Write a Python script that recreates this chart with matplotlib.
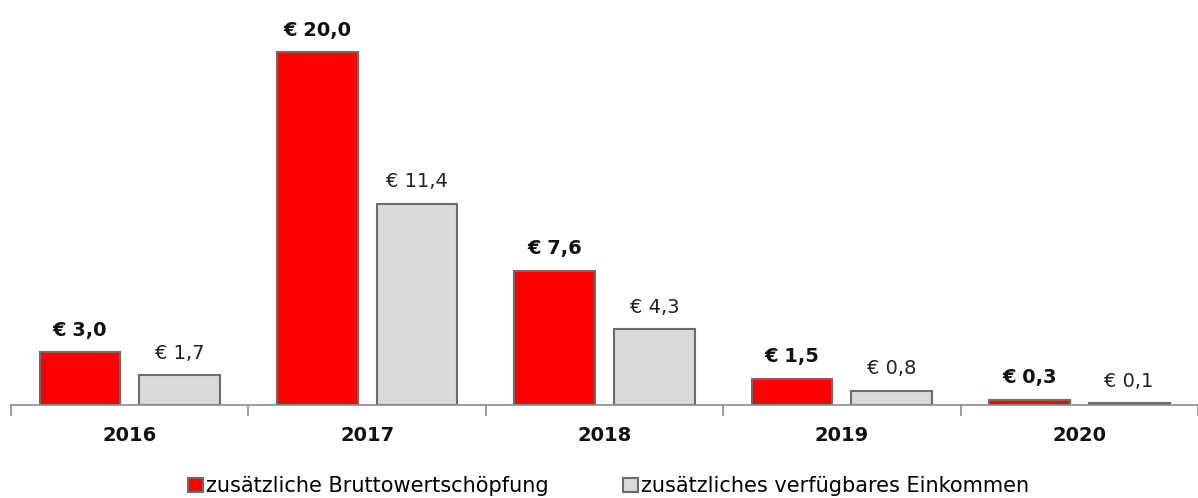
import matplotlib.pyplot as plt
import numpy as np

jahre = ['2016', '2017', '2018', '2019', '2020']
brutto = [3.0, 20.0, 7.6, 1.5, 0.3]
einkommen = [1.7, 11.4, 4.3, 0.8, 0.1]

plt.rcParams['font.family'] = ['DejaVu Sans']

fig = plt.figure(figsize=(11.98, 4.98), dpi=100)
ax = fig.add_axes([0.0092, 0.1867, 0.9908, 0.8133])

x = np.arange(len(jahre))
w = 0.34
b1 = ax.bar(x - 0.21, brutto, w, color='#FF0000', edgecolor='#6b6b6b', linewidth=1.5,
            label='zusätzliche Bruttowertschöpfung')
b2 = ax.bar(x + 0.21, einkommen, w, color='#D9D9D9', edgecolor='#6b6b6b', linewidth=1.5,
            label='zusätzliches verfügbares Einkommen')

fmt = lambda v: '€ ' + f'{v:.1f}'.replace('.', ',')
ax.bar_label(b1, labels=[fmt(v) for v in brutto], padding=9, fontsize=14,
             fontweight='bold', color='#111111')
ax.bar_label(b2, labels=[fmt(v) for v in einkommen], padding=9, fontsize=14,
             color='#222222')

ax.set_xlim(-0.5, 4.5)
ax.set_ylim(0, 22.95)

ax.set_xticks(np.arange(-0.5, 5, 1))
ax.set_xticklabels([])
ax.set_xticks(x, minor=True)
ax.set_xticklabels(jahre, minor=True, fontsize=14, fontweight='bold', color='#111111')
ax.tick_params(axis='x', which='major', direction='out', length=8, width=1.2, color='#8c8c8c')
ax.tick_params(axis='x', which='minor', length=0, pad=15)
ax.set_yticks([])

for s in ['top', 'right', 'left']:
    ax.spines[s].set_visible(False)
ax.spines['bottom'].set_color('#8c8c8c')
ax.spines['bottom'].set_linewidth(1.2)

fig.legend(loc='center left', bbox_to_anchor=(0.157, 0.024), ncol=2, frameon=False,
           fontsize=15, handlelength=0.7, handleheight=0.65, handletextpad=0.15,
           columnspacing=3.6, borderpad=0, borderaxespad=0)

plt.savefig('out.png')
